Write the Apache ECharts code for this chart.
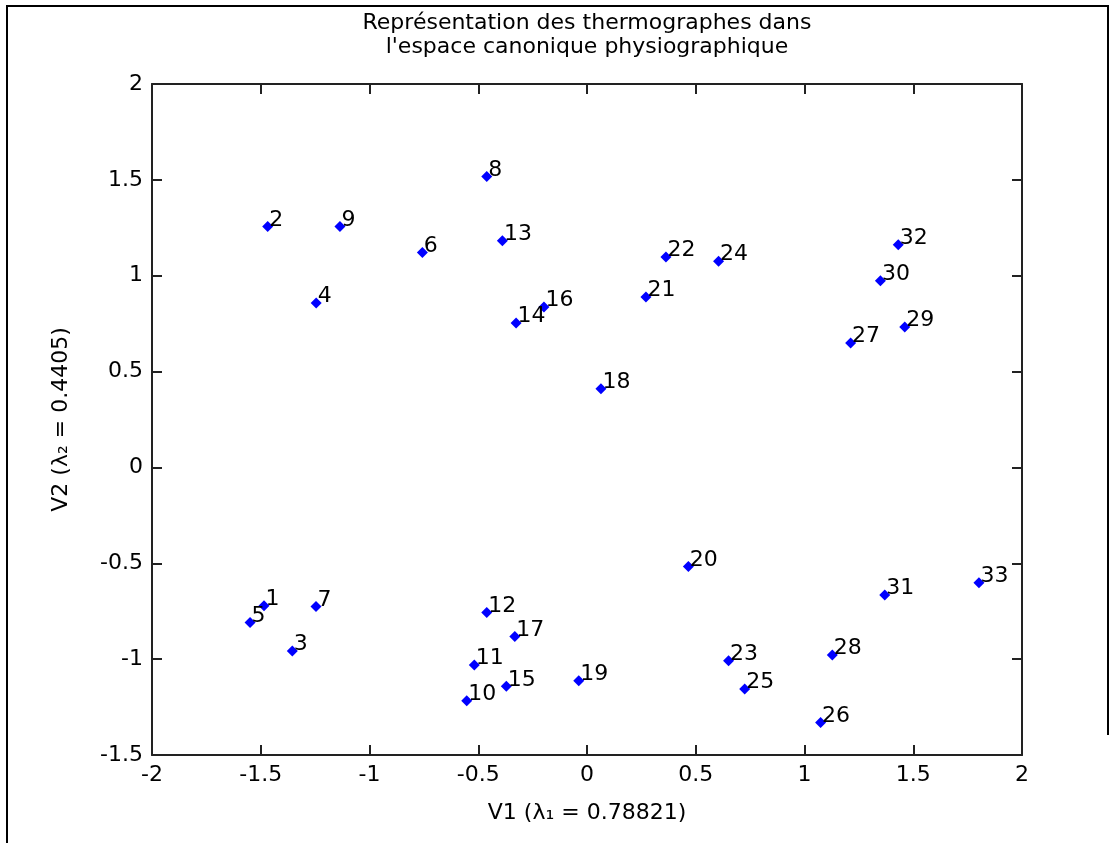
<!DOCTYPE html>
<html>
<head>
<meta charset="utf-8">
<script src="https://cdn.jsdelivr.net/npm/echarts@6/dist/echarts.min.js"></script>
<style>
  html, body { margin: 0; padding: 0; background: #fff; }
  #con { width: 1117px; height: 843px; }
</style>
</head>
<body>
<div id="con"></div>
<script>
// thermographe numbers and their canonical coordinates
var ids = ['1','2','3','4','5','6','7','8','9','10','11','12','13','14','15','16','17',
           '18','19','20','21','22','23','24','25','26','27','28','29','30','31','32','33'];
var v1 = [-1.485, -1.468, -1.355, -1.245, -1.549, -0.757, -1.246, -0.461, -1.136, -0.553,
          -0.518, -0.461, -0.389, -0.326, -0.371, -0.198, -0.332, 0.064, -0.038, 0.466,
          0.271, 0.363, 0.651, 0.605, 0.725, 1.074, 1.212, 1.128, 1.461, 1.349,
          1.369, 1.431, 1.802];
var v2 = [-0.722, 1.257, -0.957, 0.858, -0.809, 1.121, -0.725, 1.517, 1.257, -1.217,
          -1.030, -0.757, 1.182, 0.754, -1.142, 0.837, -0.882, 0.411, -1.113, -0.517,
          0.889, 1.097, -1.009, 1.076, -1.156, -1.330, 0.649, -0.978, 0.733, 0.974,
          -0.665, 1.161, -0.601];

var titleLines = ['Représentation des thermographes dans', "l'espace canonique physiographique"];
var xName = 'V1 (λ₁ = 0.78821)';
var yName = 'V2 (λ₂ = 0.4405)';

var points = [];
for (var i = 0; i < ids.length; i++) {
    points.push({ value: [v1[i], v2[i]], name: ids[i] });
}

var font = 'DejaVu Sans';
var axisCol = '#222';

var myChart = echarts.init(document.getElementById('con'));

function axisBase(show) {
    return {
        type: 'value',
        interval: 0.5,
        axisLine: { show: true, onZero: false, lineStyle: { color: axisCol, width: 2 } },
        axisTick: { show: true, inside: true, length: 10, lineStyle: { color: axisCol, width: 2 } },
        axisLabel: { show: show, color: '#000', fontFamily: font, fontSize: 22, margin: 9 },
        splitLine: { show: false }
    };
}

var xb = axisBase(true);
xb.min = -2; xb.max = 2; xb.position = 'bottom';
xb.name = xName; xb.nameLocation = 'middle'; xb.nameGap = 47;
xb.nameTextStyle = { color: '#000', fontFamily: font, fontSize: 22 };
var xt = axisBase(false);
xt.min = -2; xt.max = 2; xt.position = 'top';

var yl = axisBase(true);
yl.min = -1.5; yl.max = 2; yl.position = 'left';
yl.name = yName; yl.nameLocation = 'middle'; yl.nameGap = 80; yl.nameRotate = 90;
yl.nameTextStyle = { color: '#000', fontFamily: font, fontSize: 22 };
var yr = axisBase(false);
yr.min = -1.5; yr.max = 2; yr.position = 'right';

option = {
    animation: false,
    backgroundColor: '#fff',
    grid: { left: 152, right: 95, top: 84, bottom: 88 },
    xAxis: [xb, xt],
    yAxis: [yl, yr],
    graphic: [
        { type: 'polyline', shape: { points: [[7, 843], [7, 6], [1108, 6], [1108, 735]] },
          style: { stroke: '#000', lineWidth: 2, fill: null } },
        { type: 'text', x: 587, y: 11,
          style: { text: titleLines.join('\n'), font: '22px "DejaVu Sans"', lineHeight: 24,
                   textAlign: 'center', fill: '#000' } }
    ],
    series: [
        {
            type: 'scatter',
            data: points,
            symbol: 'diamond',
            symbolSize: 11,
            itemStyle: { color: '#0000ff', opacity: 1 },
            label: {
                show: true,
                formatter: '{b}',
                position: [7, -1],
                align: 'left',
                verticalAlign: 'middle',
                color: '#000',
                fontFamily: font,
                fontSize: 22
            }
        }
    ]
};
myChart.setOption(option);
</script>
</body>
</html>
